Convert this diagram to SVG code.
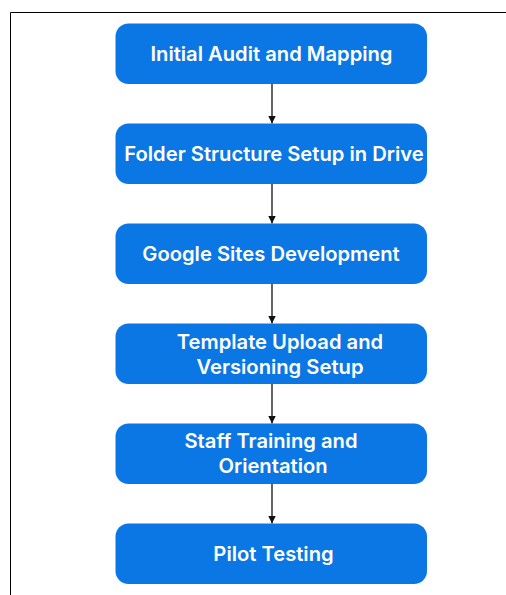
<svg xmlns="http://www.w3.org/2000/svg" width="506" height="595" viewBox="0 0 506 595">
<style>
.box{fill:#0B77E5}
.t{font-family:Inter,"Noto Sans",sans-serif;font-weight:600;font-size:20.2px;fill:#fff;text-anchor:middle}
.c{stroke:#111;stroke-width:1.3;fill:none}
</style>
<defs>
<marker id="ah" viewBox="0 0 10 10" refX="10" refY="5" markerWidth="8" markerHeight="8" markerUnits="userSpaceOnUse" orient="auto">
<path d="M0,0 L10,5 L0,10 z" fill="#111"/>
</marker>
</defs>
<rect width="506" height="595" fill="#fff"/>
<path d="M10.5,595 V12.5 H506" fill="none" stroke="#000" stroke-width="1"/>
<g id="connectors">
<line class="c" x1="272" y1="84" x2="272" y2="123.5" marker-end="url(#ah)"/>
<line class="c" x1="272" y1="184" x2="272" y2="223.5" marker-end="url(#ah)"/>
<line class="c" x1="272" y1="284" x2="272" y2="323.5" marker-end="url(#ah)"/>
<line class="c" x1="272" y1="384" x2="272" y2="423.5" marker-end="url(#ah)"/>
<line class="c" x1="272" y1="484" x2="272" y2="523.5" marker-end="url(#ah)"/>
</g>
<g id="n1"><rect class="box" x="115.5" y="23.5" width="311.5" height="60.5" rx="13"/><text class="t" x="271.5" y="61">Initial Audit and Mapping</text></g>
<g id="n2"><rect class="box" x="115.5" y="123.5" width="311.5" height="60.5" rx="13"/><text class="t" x="274" y="160.5">Folder Structure Setup in Drive</text></g>
<g id="n3"><rect class="box" x="115.5" y="223.5" width="311.5" height="60.5" rx="13"/><text class="t" x="271" y="260.5">Google Sites Development</text></g>
<g id="n4"><rect class="box" x="115.5" y="323.5" width="311.5" height="60.5" rx="13"/><text class="t" x="280" y="349">Template Upload and</text><text class="t" x="280" y="374">Versioning Setup</text></g>
<g id="n5"><rect class="box" x="115.5" y="423.5" width="311.5" height="60.5" rx="13"/><text class="t" x="271" y="447.5">Staff Training and</text><text class="t" x="273" y="473">Orientation</text></g>
<g id="n6"><rect class="box" x="115.5" y="523.5" width="311.5" height="60.5" rx="13"/><text class="t" x="273.5" y="560.5">Pilot Testing</text></g>
</svg>
